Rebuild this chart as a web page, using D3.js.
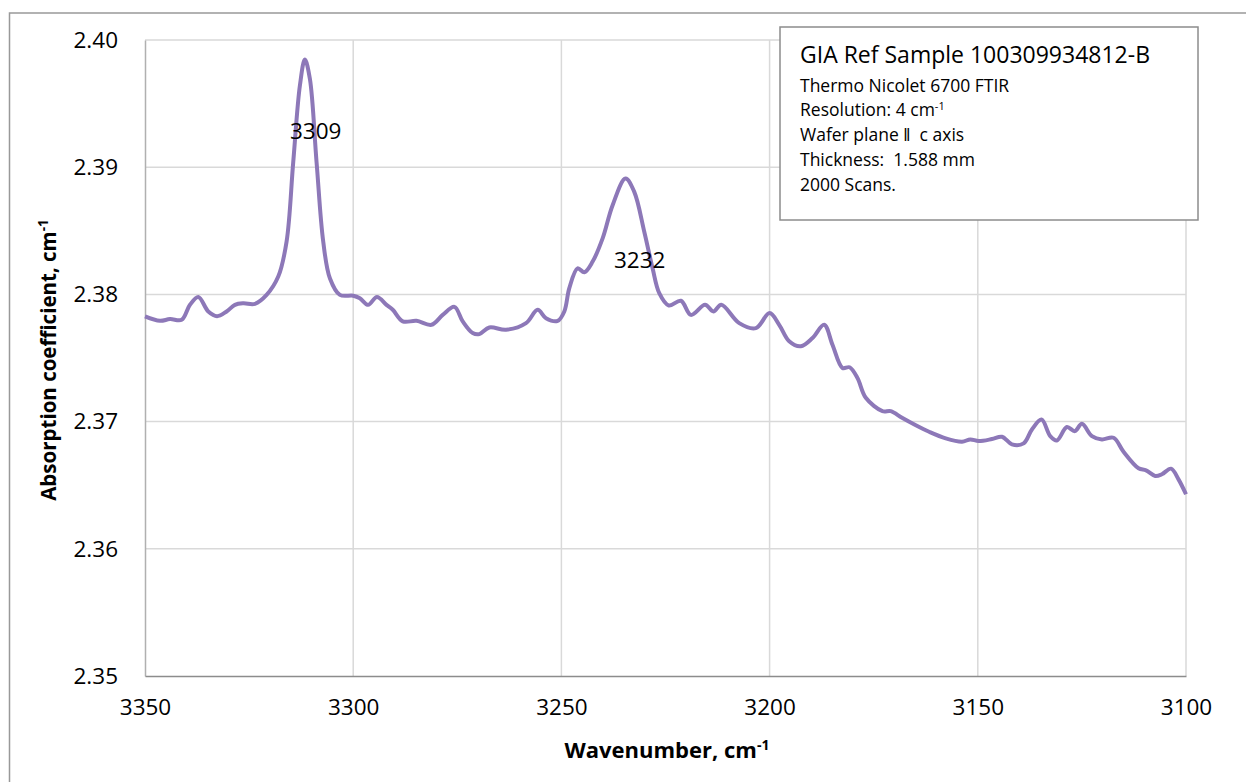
<!DOCTYPE html>
<meta charset="utf-8">
<html>
<style>
  body { margin: 0; background: #fff; }
  text { font-family: "Open Sans", sans-serif; white-space: pre; }
</style>
<div id="chartContainer"></div>
<script src="https://cdn.jsdelivr.net/npm/d3@7"></script>
<script type="text/javascript">
  // spectrum, wavenumber (cm-1) vs absorption coefficient
  var wavenumber = [3350, 3346.4, 3344.0, 3341.2, 3339.2, 3337.2, 3334.8, 3332.7, 3330.4, 3328.4,
    3326.4, 3323.6, 3320.8, 3318.0, 3316.0, 3314.4, 3312.8, 3311.6, 3310.4, 3308.8,
    3307.2, 3305.6, 3303.2, 3300.0, 3298.4, 3296.4, 3294.3, 3292.0, 3290.5, 3288.1,
    3284.8, 3281.2, 3278.5, 3275.7, 3273.7, 3271.3, 3269.7, 3267.3, 3263.3, 3258.5,
    3255.7, 3253.7, 3250.9, 3249.3, 3248.1, 3246.1, 3244.5, 3242.5, 3240.1, 3237.7,
    3234.6, 3232.5, 3230.1, 3228.1, 3226.5, 3224.2, 3221.3, 3218.9, 3215.5, 3213.5,
    3211.6, 3207.3, 3203.3, 3200.0, 3197.7, 3195.3, 3192.5, 3189.7, 3186.9, 3184.9,
    3182.5, 3180.8, 3178.9, 3176.9, 3172.9, 3170.9, 3168.2, 3165.0, 3161.7, 3157.7,
    3153.8, 3151.8, 3149.8, 3146.6, 3144.2, 3141.8, 3139.0, 3137.0, 3134.7, 3132.6,
    3131.0, 3128.6, 3126.7, 3125.0, 3122.6, 3120.2, 3117.4, 3115.0, 3111.4, 3109.6,
    3107.4, 3105.8, 3103.6, 3101.8, 3100];

  var absorption = [2.37827, 2.37792, 2.37806, 2.37800, 2.37918, 2.37980, 2.37866, 2.37829, 2.37866, 2.37918,
    2.37930, 2.37926, 2.37996, 2.38140, 2.38415, 2.39041, 2.39642, 2.39846, 2.39694, 2.39040,
    2.38415, 2.38127, 2.37996, 2.37990, 2.37970, 2.37918, 2.37980, 2.37918, 2.37879, 2.37788,
    2.37792, 2.37761, 2.37839, 2.37902, 2.37788, 2.37696, 2.37688, 2.37740, 2.37722, 2.37774,
    2.37879, 2.37813, 2.37792, 2.37866, 2.38049, 2.38205, 2.38174, 2.38258, 2.38440, 2.38701,
    2.38911, 2.38806, 2.38493, 2.38205, 2.38010, 2.37913, 2.37950, 2.37839, 2.37918, 2.37866,
    2.37918, 2.37774, 2.37735, 2.37853, 2.37761, 2.37631, 2.37592, 2.37657, 2.37761, 2.37604,
    2.37422, 2.37427, 2.37343, 2.37187, 2.37082, 2.37082, 2.37030, 2.36973, 2.36920, 2.36868,
    2.36842, 2.36860, 2.36847, 2.36863, 2.36881, 2.36821, 2.36829, 2.36938, 2.37016, 2.36886,
    2.36852, 2.36957, 2.36925, 2.36983, 2.36886, 2.36860, 2.36873, 2.36763, 2.36633, 2.36617,
    2.36573, 2.36586, 2.36630, 2.36546, 2.36429];

  var xTicks = [3350, 3300, 3250, 3200, 3150, 3100];
  var yTicks = [2.35, 2.36, 2.37, 2.38, 2.39, 2.40];

  // peak annotations (label position given in data units)
  var peakLabels = [
    { text: "3309", wn: 3309.0, y: 2.3922 },
    { text: "3232", wn: 3231.2, y: 2.3821 }
  ];

  var infoTitle = "GIA Ref Sample 100309934812-B";
  var infoLines = ["Thermo Nicolet 6700 FTIR", "Resolution: 4 cm", "Wafer plane \u2016  c axis",
    "Thickness:  1.588 mm", "2000 Scans."];

  var W = 1246, H = 782;
  var svg = d3.select("#chartContainer").append("svg")
    .attr("width", W).attr("height", H);

  // chart frame
  svg.append("rect")
    .attr("x", 9.5).attr("y", 13).attr("width", W + 20).attr("height", H + 20)
    .attr("fill", "#fff").attr("stroke", "#999").attr("stroke-width", 1.5);

  var x = d3.scaleLinear().domain([3350, 3100]).range([145, 1186]);
  var y = d3.scaleLinear().domain([2.35, 2.40]).range([676, 40]);

  // gridlines
  svg.append("g").selectAll("line").data(yTicks.slice(1)).enter().append("line")
    .attr("x1", x(3350)).attr("x2", x(3100))
    .attr("y1", function (d) { return y(d); }).attr("y2", function (d) { return y(d); })
    .attr("stroke", "#d9d9d9").attr("stroke-width", 1.5);
  svg.append("g").selectAll("line").data(xTicks.slice(1)).enter().append("line")
    .attr("y1", y(2.35)).attr("y2", y(2.40))
    .attr("x1", function (d) { return x(d); }).attr("x2", function (d) { return x(d); })
    .attr("stroke", "#d9d9d9").attr("stroke-width", 1.5);

  // axes
  var yAxis = svg.append("g").attr("transform", "translate(" + x(3350) + ",0)")
    .call(d3.axisLeft(y).tickValues(yTicks).tickFormat(d3.format(".2f")).tickSize(0).tickPadding(27));
  var xAxis = svg.append("g").attr("transform", "translate(0," + y(2.35) + ")")
    .call(d3.axisBottom(x).tickValues(xTicks).tickFormat(d3.format("d")).tickSize(0).tickPadding(27));
  [yAxis, xAxis].forEach(function (a) {
    a.selectAll("text").attr("font-size", 22.5).attr("fill", "#000")
      .attr("font-family", "'Open Sans', sans-serif");
  });
  yAxis.select(".domain").attr("stroke", "#b0b0b0").attr("stroke-width", 1.5);
  xAxis.select(".domain").attr("stroke", "#8c8c8c").attr("stroke-width", 1.5);
  xAxis.selectAll("text").attr("dy", "0.55em");

  // spectrum
  var line = d3.line()
    .x(function (d, i) { return x(wavenumber[i]); })
    .y(function (d) { return y(d); })
    .curve(d3.curveCatmullRom.alpha(0.5));

  svg.append("path").datum(absorption)
    .attr("d", line)
    .attr("fill", "none")
    .attr("stroke", "#8d78b8")
    .attr("stroke-width", 4)
    .attr("stroke-linejoin", "round");

  // peak labels
  svg.selectAll(".peak").data(peakLabels).enter().append("text")
    .attr("class", "peak")
    .attr("x", function (d) { return x(d.wn); })
    .attr("y", function (d) { return y(d.y); })
    .attr("text-anchor", "middle")
    .attr("font-size", 22.5)
    .text(function (d) { return d.text; });

  // axis titles
  var xt = svg.append("text").attr("x", 667).attr("y", 758)
    .attr("text-anchor", "middle").attr("font-weight", "bold").attr("font-size", 22);
  xt.append("tspan").text("Wavenumber, cm");
  xt.append("tspan").attr("dy", -8).attr("font-size", 14).text("-1");

  var yt = svg.append("text").attr("transform", "translate(56,360) rotate(-90)")
    .attr("text-anchor", "middle").attr("font-weight", "bold").attr("font-size", 20.5);
  yt.append("tspan").text("Absorption coefficient, cm");
  yt.append("tspan").attr("dy", -8).attr("font-size", 13.5).text("-1");

  // info box
  var box = svg.append("g");
  box.append("rect").attr("x", 780).attr("y", 27).attr("width", 418).attr("height", 193)
    .attr("fill", "#fff").attr("stroke", "#8c8c8c").attr("stroke-width", 1.5);
  box.append("text").attr("x", 800).attr("y", 63).attr("font-size", 23).text(infoTitle);
  var lineY = [92, 116, 141, 166, 191];
  infoLines.forEach(function (t, i) {
    var tx = box.append("text").attr("x", 800).attr("y", lineY[i]).attr("font-size", 17.5);
    tx.append("tspan").text(t);
    if (i === 1) tx.append("tspan").attr("dy", -6).attr("font-size", 11).text("-1");
  });
</script>
</html>
